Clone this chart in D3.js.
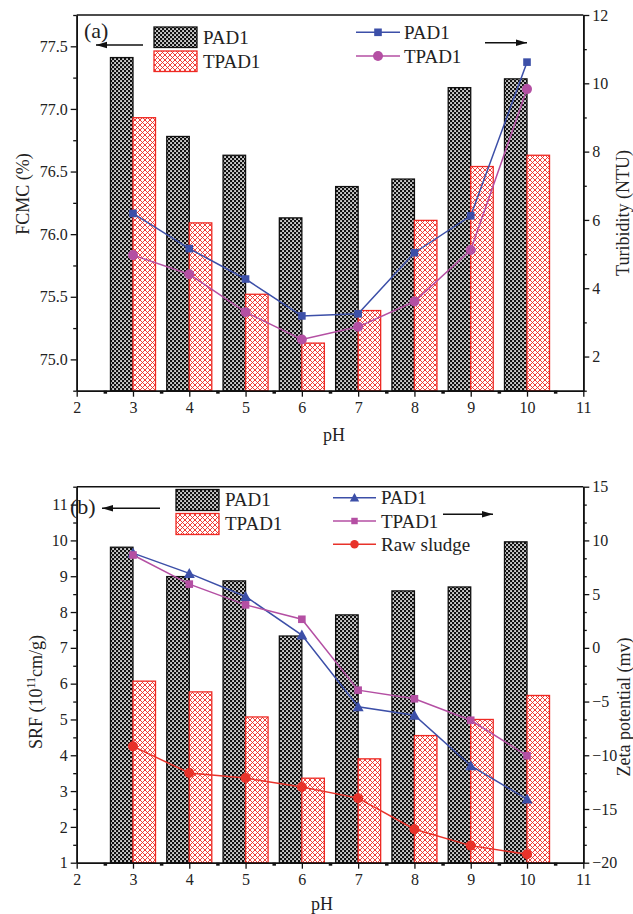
<!DOCTYPE html>
<html><head><meta charset="utf-8">
<script src="https://cdn.jsdelivr.net/npm/d3@7"></script>
<style>body{margin:0;background:#fff}svg{display:block}text{font-family:"Liberation Serif","DejaVu Serif",serif}</style>
</head><body><svg id="c" width="633" height="914"></svg>
<script>
// ---- data ----
const pH = [3,4,5,6,7,8,9,10];
const xTicks = [2,3,4,5,6,7,8,9,10,11];
// panel (a)
const fcmcPAD1 = [77.41,76.78,76.63,76.13,76.38,76.44,77.17,77.24];
const fcmcTPAD1 = [76.93,76.09,75.52,75.13,75.39,76.11,76.54,76.63];
const turbPAD1 = [6.19,5.16,4.27,3.19,3.25,5.04,6.12,10.62];
const turbTPAD1 = [4.97,4.41,3.30,2.50,2.87,3.61,5.12,9.83];
const fcmcTicks = [75.0,75.5,76.0,76.5,77.0,77.5];
const turbTicks = [2,4,6,8,10,12];
// panel (b)
const srfPAD1 = [9.81,8.99,8.87,7.33,7.92,8.59,8.70,9.96];
const srfTPAD1 = [6.07,5.77,5.07,3.36,3.90,4.55,5.00,5.67];
const zetaPAD1 = [8.82,6.93,4.78,1.19,-5.49,-6.27,-10.97,-14.08];
const zetaTPAD1 = [8.64,5.93,4.00,2.66,-3.94,-4.74,-6.74,-10.04];
const zetaRaw = [-9.17,-11.65,-12.12,-12.96,-13.99,-16.88,-18.41,-19.22];
const srfTicks = [1,2,3,4,5,6,7,8,9,10,11];
const zetaTicks = [-20,-15,-10,-5,0,5,10,15];

const svg = d3.select("#c");
const defs = svg.append("defs");
// patterns
const p1 = defs.append("pattern").attr("id","pBlack").attr("patternUnits","userSpaceOnUse").attr("width",4).attr("height",4);
p1.append("rect").attr("width",4).attr("height",4).attr("fill","#111");
p1.append("rect").attr("x",0.2).attr("y",0.2).attr("width",1.7).attr("height",1.7).attr("fill","#fff");
p1.append("rect").attr("x",2.2).attr("y",2.2).attr("width",1.7).attr("height",1.7).attr("fill","#fff");
const p2 = defs.append("pattern").attr("id","pRed").attr("patternUnits","userSpaceOnUse").attr("width",5).attr("height",5);
p2.append("rect").attr("width",5).attr("height",5).attr("fill","#fff");
p2.append("path").attr("d","M0,0L5,5M5,0L0,5M-1,4L1,6M4,-1L6,1M-1,1L1,-1M4,6L6,4").attr("stroke","#ee2a24").attr("stroke-width",0.9);

const L = 76.7, R = 583.3;
const x = d3.scaleLinear().domain([2,11]).range([L,R]);
const BLUE="#3c4fa8", MAG="#b44fa3", RED="#e8322a";

function panel(o){
  const g = svg.append("g");
  const yl = d3.scaleLinear().domain(o.yl).range([o.bot,o.top]);
  const yr = d3.scaleLinear().domain(o.yr).range([o.bot,o.top]);
  // bars
  const bw = x(0.4)-x(0);
  g.selectAll(".b1").data(pH).join("rect")
    .attr("x",d=>x(d-0.4)).attr("width",bw)
    .attr("y",(d,i)=>yl(o.bar1[i])).attr("height",(d,i)=>o.bot-yl(o.bar1[i]))
    .attr("fill","url(#pBlack)").attr("stroke","#111").attr("stroke-width",1.3);
  g.selectAll(".b2").data(pH).join("rect")
    .attr("x",d=>x(d)).attr("width",bw)
    .attr("y",(d,i)=>yl(o.bar2[i])).attr("height",(d,i)=>o.bot-yl(o.bar2[i]))
    .attr("fill","url(#pRed)").attr("stroke","#ee2a24").attr("stroke-width",1.3);
  // lines
  o.lines.forEach(s=>{
    const line = d3.line().x((d,i)=>x(pH[i])).y(d=>yr(d));
    g.append("path").attr("d",line(s.v)).attr("fill","none").attr("stroke",s.c).attr("stroke-width",1.5);
    s.v.forEach((v,i)=>marker(g,s.m,x(pH[i]),yr(v),s.c));
  });
  // axes
  const axL = d3.axisLeft(yl).tickValues(o.ylTicks).tickFormat(o.ylFmt).tickSize(6).tickSizeOuter(0).tickPadding(3);
  const axLm = d3.axisLeft(yl).tickValues(o.ylMinor).tickFormat("").tickSize(3.5).tickSizeOuter(0);
  const axR = d3.axisRight(yr).tickValues(o.yrTicks).tickFormat(o.yrFmt).tickSize(6).tickSizeOuter(0).tickPadding(3);
  const axRm = d3.axisRight(yr).tickValues(o.yrMinor).tickFormat("").tickSize(3.5).tickSizeOuter(0);
  const axB = d3.axisBottom(x).tickValues(xTicks).tickFormat(d3.format("d")).tickSize(6).tickSizeOuter(0).tickPadding(5);
  const axBm = d3.axisBottom(x).tickValues(d3.range(2.5,11,1)).tickFormat("").tickSize(3).tickSizeOuter(0);
  const style = sel=>{sel.selectAll("path").attr("stroke","#111").attr("stroke-width",1.6);
    sel.selectAll("line").attr("stroke","#111").attr("stroke-width",1.3);
    sel.selectAll("text").attr("fill","#222").attr("font-size",16).attr("font-family","Liberation Serif");};
  g.append("g").attr("transform",`translate(${L},0)`).call(axL).call(style);
  g.append("g").attr("transform",`translate(${L},0)`).call(axLm).call(style);
  g.append("g").attr("transform",`translate(${R},0)`).call(axR).call(style);
  g.append("g").attr("transform",`translate(${R},0)`).call(axRm).call(style);
  g.append("g").attr("transform",`translate(0,${o.bot})`).call(axB).call(style);
  const bm = g.append("g").attr("transform",`translate(0,${o.bot})`).call(axBm).call(style);
  bm.selectAll("line").attr("stroke-width",3.5);
  g.append("line").attr("x1",L).attr("x2",R).attr("y1",o.top).attr("y2",o.top).attr("stroke","#111").attr("stroke-width",1.6);
  g.selectAll(".domain").attr("stroke-width",1.6);
  return {g,yl,yr};
}
function marker(g,type,cx,cy,c,s){
  s = s||1;
  if(type==="sq") g.append("rect").attr("x",cx-3.8*s).attr("y",cy-3.8*s).attr("width",7.6*s).attr("height",7.6*s).attr("fill",c);
  else if(type==="ci") g.append("circle").attr("cx",cx).attr("cy",cy).attr("r",5*s).attr("fill",c);
  else if(type==="tr") g.append("path").attr("d",`M${cx},${cy-5.5*s}L${cx+5.5*s},${cy+4.5*s}L${cx-5.5*s},${cy+4.5*s}Z`).attr("fill",c);
}
function text(t,xx,yy,size,anchor,rot){
  const e = svg.append("text").attr("x",xx).attr("y",yy).attr("font-size",size).attr("fill","#222")
    .attr("text-anchor",anchor||"start").text(t);
  if(rot) e.attr("transform",`rotate(${rot},${xx},${yy})`);
  return e;
}
function arrow(x1,y1,x2,y2){
  svg.append("line").attr("x1",x1).attr("y1",y1).attr("x2",x2).attr("y2",y2).attr("stroke","#111").attr("stroke-width",1.6);
  const dir = Math.sign(x2-x1);
  svg.append("path").attr("d",`M${x2},${y2}L${x2-dir*11},${y2-3.2}L${x2-dir*11},${y2+3.2}Z`).attr("fill","#111");
}

// ---- panel (a) ----
panel({top:15,bot:390.7,yl:[74.75,77.75],yr:[1,12],bar1:fcmcPAD1,bar2:fcmcTPAD1,
  ylTicks:fcmcTicks,ylMinor:d3.range(74.75,77.8,0.5),ylFmt:d3.format(".1f"),
  yrTicks:turbTicks,yrMinor:[1,3,5,7,9,11],yrFmt:d3.format("d"),
  lines:[{v:turbPAD1,c:BLUE,m:"sq"},{v:turbTPAD1,c:MAG,m:"ci"}]});
text("(a)",84,38,22);
arrow(143,45,96,45);
arrow(485,42.7,527,42.7);
// bar legend a
svg.append("rect").attr("x",154).attr("y",27).attr("width",43).attr("height",20.5).attr("fill","url(#pBlack)").attr("stroke","#111").attr("stroke-width",1.3);
svg.append("rect").attr("x",154).attr("y",51).attr("width",43).attr("height",20.5).attr("fill","url(#pRed)").attr("stroke","#ee2a24").attr("stroke-width",1.3);
text("PAD1",203,44,19); text("TPAD1",203,68,19);
// line legend a
[[BLUE,"sq",32.3,"PAD1"],[MAG,"ci",56,"TPAD1"]].forEach(([c,m,yy,t])=>{
  svg.append("line").attr("x1",356).attr("x2",400).attr("y1",yy).attr("y2",yy).attr("stroke",c).attr("stroke-width",1.5);
  marker(svg,m,378,yy,c); text(t,404,yy+6.5,19);
});
text("FCMC (%)",29,194,18,"middle",-90);
text("Turibidity (NTU)",629,213,18,"middle",-90);
text("pH",334,441,18,"middle");

// ---- panel (b) ----
panel({top:486.7,bot:862.7,yl:[1,11.5],yr:[-20,15],bar1:srfPAD1,bar2:srfTPAD1,
  ylTicks:srfTicks,ylMinor:d3.range(1.5,11.6,1),ylFmt:d3.format("d"),
  yrTicks:zetaTicks,yrMinor:d3.range(-20,15,5).flatMap(v=>[v+5/3,v+10/3]),yrFmt:d3.format("d"),
  lines:[{v:zetaPAD1,c:BLUE,m:"tr"},{v:zetaTPAD1,c:MAG,m:"sq"},{v:zetaRaw,c:RED,m:"ci"}]});
text("(b)",70,514,22);
arrow(160,508.3,102,508.3);
arrow(443,514.3,493,514.3);
svg.append("rect").attr("x",176).attr("y",489.5).attr("width",43).attr("height",21).attr("fill","url(#pBlack)").attr("stroke","#111").attr("stroke-width",1.3);
svg.append("rect").attr("x",176).attr("y",513.5).attr("width",43).attr("height",21).attr("fill","url(#pRed)").attr("stroke","#ee2a24").attr("stroke-width",1.3);
text("PAD1",225,506,19); text("TPAD1",225,530,19);
[[BLUE,"tr",497.7,"PAD1"],[MAG,"sq",521,"TPAD1"],[RED,"ci",544.3,"Raw sludge"]].forEach(([c,m,yy,t])=>{
  svg.append("line").attr("x1",333).attr("x2",376).attr("y1",yy).attr("y2",yy).attr("stroke",c).attr("stroke-width",1.5);
  marker(svg,m,354.5,yy,c,0.85); text(t,381,yy+6.5,19);
});
const srf = text("SRF (10",42,692,18,"middle",-90);
srf.append("tspan").attr("dy",-7).attr("font-size",12).text("11");
srf.append("tspan").attr("dy",7).text("cm/g)");
text("Zeta potential (mv)",630,707,18,"middle",-90);
text("pH",322,910,18,"middle");
</script></body></html>
